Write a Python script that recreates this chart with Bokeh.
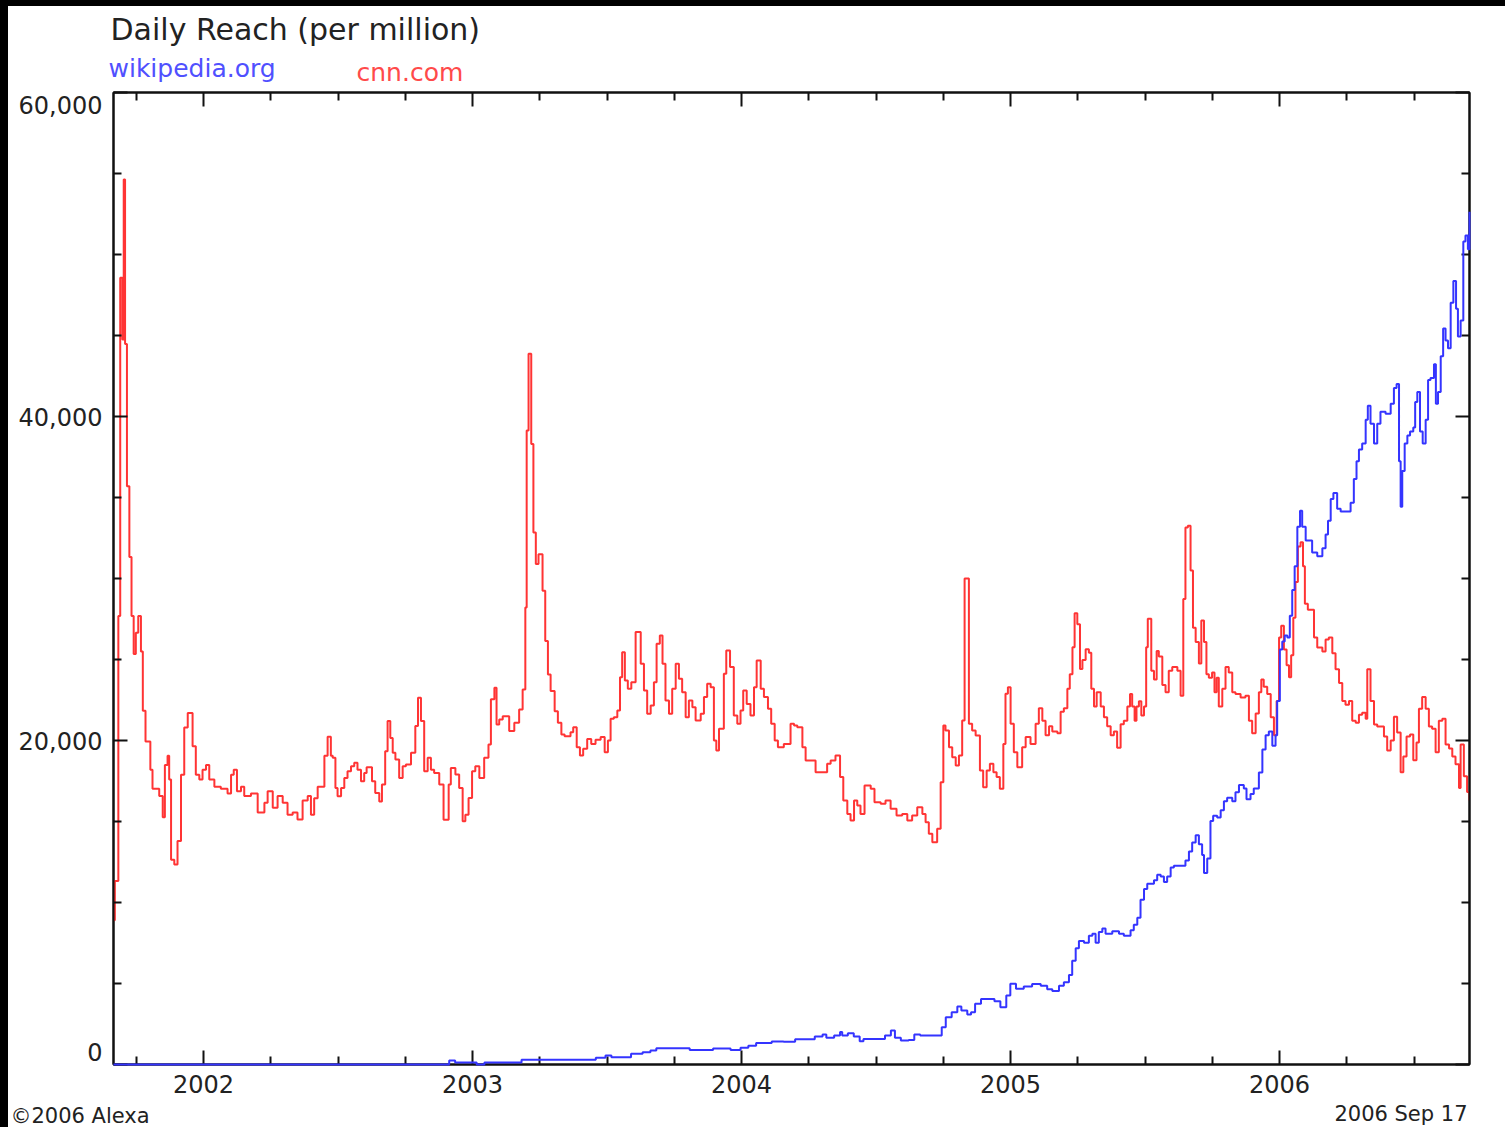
from bokeh.plotting import figure
from bokeh.models import FixedTicker, NumeralTickFormatter, LinearAxis, Range1d
from bokeh.core.properties import value
from bokeh.embed import file_html
from bokeh.resources import INLINE

# ---------------- data ----------------
title_text = "Daily Reach (per million)"
series_names = ["wikipedia.org", "cnn.com"]
footer_left = "\u00a92006 Alexa"
footer_right = "2006 Sep 17"

x_start, x_end = 2001.665, 2006.706
year_ticks = [2002, 2003, 2004, 2005, 2006]
quarter_ticks = [2001.75, 2002.25, 2002.5, 2002.75, 2003.25, 2003.5, 2003.75,
                 2004.25, 2004.5, 2004.75, 2005.25, 2005.5, 2005.75, 2006.25, 2006.5]
y_ticks = [0, 20000, 40000, 60000]
y_minor = [5000, 10000, 15000, 25000, 30000, 35000, 45000, 50000, 55000]
y_grid = [20000, 40000]

cnn_year = [
    2001.665, 2001.670, 2001.683, 2001.690, 2001.698, 2001.703, 2001.708, 2001.715, 2001.724, 2001.732,
    2001.740, 2001.748, 2001.757, 2001.767, 2001.774, 2001.784, 2001.802, 2001.810, 2001.835, 2001.848,
    2001.856, 2001.866, 2001.872, 2001.879, 2001.891, 2001.903, 2001.916, 2001.928, 2001.941, 2001.959,
    2001.971, 2001.984, 2001.996, 2002.009, 2002.021, 2002.040, 2002.064, 2002.089, 2002.102, 2002.112,
    2002.124, 2002.139, 2002.151, 2002.176, 2002.201, 2002.226, 2002.238, 2002.257, 2002.275, 2002.294,
    2002.312, 2002.331, 2002.349, 2002.368, 2002.387, 2002.399, 2002.411, 2002.424, 2002.449, 2002.461,
    2002.473,
    2002.480, 2002.490, 2002.498, 2002.511, 2002.523, 2002.535, 2002.548, 2002.560, 2002.572, 2002.585,
    2002.597, 2002.606, 2002.626, 2002.638, 2002.653, 2002.663, 2002.675, 2002.684, 2002.694, 2002.703,
    2002.713, 2002.727, 2002.740, 2002.752, 2002.771, 2002.787, 2002.797, 2002.808, 2002.820, 2002.833,
    2002.845, 2002.857, 2002.876, 2002.892, 2002.911, 2002.919, 2002.936, 2002.950, 2002.963, 2002.973,
    2002.985, 2002.998, 2003.010, 2003.025, 2003.043, 2003.059, 2003.068, 2003.081, 2003.089, 2003.099,
    2003.112, 2003.136, 2003.155, 2003.173, 2003.186, 2003.196, 2003.201, 2003.208, 2003.218, 2003.226,
    2003.235, 2003.245, 2003.260, 2003.270, 2003.280, 2003.290, 2003.305, 2003.317, 2003.330, 2003.342,
    2003.364, 2003.374, 2003.387, 2003.399, 2003.411, 2003.426, 2003.441, 2003.457, 2003.476, 2003.491,
    2003.503, 2003.513, 2003.525, 2003.538, 2003.548, 2003.556, 2003.566, 2003.577, 2003.590, 2003.606,
    2003.625, 2003.637, 2003.649, 2003.662, 2003.674, 2003.684, 2003.696, 2003.706, 2003.717, 2003.730,
    2003.742, 2003.755, 2003.767, 2003.779, 2003.792, 2003.804, 2003.817, 2003.829, 2003.848, 2003.860,
    2003.872, 2003.885, 2003.897, 2003.906, 2003.916, 2003.934, 2003.943, 2003.957, 2003.971, 2003.984,
    2003.996, 2004.006, 2004.019, 2004.033, 2004.046, 2004.056, 2004.071, 2004.083, 2004.098, 2004.110,
    2004.123, 2004.135, 2004.157, 2004.182, 2004.195, 2004.207, 2004.226, 2004.238, 2004.275, 2004.318,
    2004.331, 2004.349, 2004.366, 2004.378, 2004.393, 2004.405, 2004.418, 2004.430, 2004.442, 2004.457,
    2004.480, 2004.494, 2004.517, 2004.535, 2004.554, 2004.576, 2004.597, 2004.616, 2004.634, 2004.653,
    2004.672, 2004.684, 2004.696, 2004.709, 2004.727, 2004.740, 2004.750, 2004.758, 2004.771, 2004.783,
    2004.796, 2004.808, 2004.820, 2004.829, 2004.845, 2004.857, 2004.870, 2004.886, 2004.898, 2004.911,
    2004.923, 2004.936, 2004.948, 2004.960, 2004.973, 2004.981, 2004.990, 2005.000, 2005.012, 2005.025,
    2005.043, 2005.056, 2005.074, 2005.093,
    2005.105, 2005.118, 2005.130, 2005.143, 2005.155, 2005.174, 2005.186, 2005.198, 2005.211, 2005.220,
    2005.230, 2005.238, 2005.248, 2005.258, 2005.267, 2005.279, 2005.291, 2005.300, 2005.310, 2005.320,
    2005.335, 2005.347, 2005.359, 2005.372, 2005.384, 2005.396, 2005.409, 2005.421, 2005.434, 2005.444,
    2005.452, 2005.461, 2005.468, 2005.477, 2005.486, 2005.496, 2005.504, 2005.510, 2005.523, 2005.533,
    2005.543, 2005.551, 2005.564, 2005.576, 2005.588, 2005.601, 2005.620, 2005.632, 2005.642, 2005.650,
    2005.659, 2005.669, 2005.678, 2005.688, 2005.700, 2005.709, 2005.719, 2005.728, 2005.737, 2005.749,
    2005.758, 2005.766, 2005.774, 2005.787, 2005.799, 2005.811, 2005.824, 2005.836, 2005.855, 2005.873,
    2005.886, 2005.898, 2005.911, 2005.923, 2005.932, 2005.941, 2005.954, 2005.967, 2005.979,
    2005.989, 2005.998, 2006.006, 2006.016, 2006.026, 2006.035, 2006.043, 2006.051, 2006.059, 2006.068,
    2006.078, 2006.087, 2006.094, 2006.105, 2006.128, 2006.140, 2006.159, 2006.171, 2006.183, 2006.196,
    2006.208, 2006.221, 2006.233, 2006.245, 2006.258, 2006.270, 2006.283, 2006.295, 2006.307, 2006.320,
    2006.326, 2006.338, 2006.351, 2006.363, 2006.388, 2006.400, 2006.413, 2006.425, 2006.437, 2006.450,
    2006.460, 2006.472, 2006.485, 2006.497, 2006.509, 2006.518, 2006.530, 2006.543, 2006.555, 2006.567,
    2006.580, 2006.592, 2006.605, 2006.617, 2006.630, 2006.642, 2006.654, 2006.667, 2006.673, 2006.685,
    2006.697, 2006.706,
]
cnn_reach = [
    8900, 11330, 27680, 48560, 44760, 54630, 44470, 35700, 31330, 27680,
    25340, 26650, 27680, 25490, 21840, 19940, 18190, 17020, 16580, 15270,
    18480, 19060, 17600, 12640, 12350, 13800, 17890, 20800, 21690, 19650,
    17890, 17600, 18190, 18480, 17600, 17150, 17020, 16730, 17890, 18190,
    16870, 17150, 16580, 16730, 15560, 16150, 16870, 15850, 16580, 16150,
    15420, 15560, 15120, 16290, 16580, 15420, 16440, 17150, 19060, 20230,
    19060,
    18930, 17070, 16560, 17070, 17690, 18100, 18410, 18620, 18200, 17480,
    18000, 18350, 17480, 16760, 16240, 17280, 19340, 21200, 20160, 19240,
    18820, 17690, 18410, 18520, 19240, 20890, 22640, 21200, 18100, 18930,
    18200, 18000, 17280, 15110, 17280, 18310, 17900, 17070, 15010, 15420,
    16450, 18100, 18410, 17690, 18930, 19750, 22540, 23260, 20990, 21300,
    21500, 20580, 21090, 21920, 23150, 28210, 39130, 43880, 38310, 32840,
    30890, 31500, 29240, 26140, 24080, 23050, 21810, 21090, 20370, 20270,
    20510, 20820, 19590, 19070, 19490, 20100, 19790, 20040, 20210, 19280,
    20000, 21340, 21440, 21850, 23910, 25450, 23700, 23190, 23600, 26690,
    24730, 23090, 21650, 22160, 23600, 25970, 26480, 24730, 22470, 21650,
    23190, 24730, 23810, 22980, 21440, 22470, 22060, 21230, 21650, 22680,
    23500, 23290, 20000, 19380, 20720, 24120, 25560, 24530, 21540, 21030,
    21850, 23090, 22260, 21540, 23290, 24940, 23190, 22680, 21960, 21030,
    20000, 19590, 19790, 21030, 20930, 20820, 19590, 18770, 18040, 18560,
    18770, 19070, 17740, 16300, 15470, 15060, 16300, 15990, 15470, 17220,
    17020, 16190, 16090, 16300, 15780, 15370, 15470, 15060, 15370, 15880,
    15470, 14960, 14240, 13720, 14550, 17430, 20930, 20620, 19590, 18970,
    18460, 19070, 21230, 30000, 21030, 20620, 20310, 18150, 17120, 18150,
    18560, 18040, 17740, 17020, 19790, 22880, 23290, 21030, 19280, 18350,
    19590, 20210, 19790, 21030,
    21990, 21220, 20330, 20880, 20550, 20440, 21770, 21990, 23200, 24090,
    25750, 27850, 27180, 24420, 24970, 25640, 25410, 23200, 22100, 22980,
    22100, 21440, 20880, 20330, 20550, 19560, 21000, 21220, 22100, 22870,
    22100, 21220, 22100, 22430, 21550, 22100, 25750, 27510, 24310, 23760,
    25530, 25190, 23430, 22980, 24310, 24530, 24310, 22760, 28730, 33150,
    33260, 30500, 26960, 26080, 24750, 27400, 26080, 24090, 23870, 24200,
    22980, 23870, 22100, 23200, 24530, 24200, 22980, 22870, 22650, 22760,
    21220, 20440, 21660, 22980, 23760, 23320, 22870, 21440, 20330,
    22440, 26360, 27090, 25620, 24640, 23910, 25260, 27580, 29780, 31980,
    32230, 30760, 28440, 28070, 26360, 25740, 25500, 26240, 26360, 25380,
    24400, 23550, 22440, 22200, 22440, 21220, 21100, 21590, 21710, 21340,
    24400, 22440, 20980, 20860, 20240, 19390, 20000, 21470, 20490, 18040,
    19020, 20240, 20370, 18780, 19880, 21960, 22690, 21960, 20860, 20730,
    19270, 21220, 21340, 19750, 19510, 19020, 18530, 17070, 19750, 17800,
    16820, 16300,
]

wiki_year = [
    2001.665, 2002.913, 2002.935, 2003.015, 2003.044, 2003.182, 2003.458, 2003.494, 2003.516, 2003.589,
    2003.632, 2003.661, 2003.683, 2003.807, 2003.894, 2003.959, 2003.996, 2004.025, 2004.054, 2004.112,
    2004.156, 2004.199, 2004.272, 2004.301, 2004.315, 2004.344, 2004.366, 2004.374, 2004.395, 2004.417,
    2004.439, 2004.453, 2004.533, 2004.555, 2004.570, 2004.592, 2004.621, 2004.642, 2004.664, 2004.744,
    2004.759, 2004.781, 2004.802, 2004.817, 2004.839, 2004.853, 2004.868, 2004.890, 2004.940, 2004.962,
    2004.984, 2004.999, 2005.020, 2005.049, 2005.080,
    2005.112, 2005.136, 2005.155, 2005.180, 2005.198, 2005.217, 2005.229, 2005.242, 2005.254, 2005.273,
    2005.291, 2005.304, 2005.316, 2005.328, 2005.341, 2005.353, 2005.378, 2005.403, 2005.421, 2005.446,
    2005.458, 2005.471, 2005.483, 2005.496, 2005.508, 2005.533, 2005.545, 2005.558, 2005.570, 2005.582,
    2005.595, 2005.607, 2005.650, 2005.663, 2005.675, 2005.688, 2005.700, 2005.712, 2005.719, 2005.731,
    2005.743, 2005.753, 2005.768, 2005.781, 2005.793, 2005.805, 2005.824, 2005.836, 2005.849, 2005.867,
    2005.877, 2005.892, 2005.904, 2005.923, 2005.936, 2005.948, 2005.960, 2005.973, 2005.985,
    2005.991, 2006.001, 2006.010, 2006.019, 2006.029, 2006.038, 2006.047, 2006.056, 2006.066, 2006.076,
    2006.084, 2006.097, 2006.121, 2006.140, 2006.159, 2006.171, 2006.180, 2006.190, 2006.200, 2006.214,
    2006.227, 2006.264, 2006.276, 2006.286, 2006.295, 2006.307, 2006.320, 2006.328, 2006.338, 2006.351,
    2006.363, 2006.375, 2006.394, 2006.413, 2006.425, 2006.435, 2006.444, 2006.450, 2006.456, 2006.465,
    2006.475, 2006.485, 2006.497, 2006.504, 2006.512, 2006.522, 2006.532, 2006.543, 2006.552, 2006.561,
    2006.574, 2006.581, 2006.589, 2006.599, 2006.608, 2006.617, 2006.626, 2006.636, 2006.646, 2006.656,
    2006.663, 2006.673, 2006.683, 2006.691, 2006.700, 2006.706,
]
wiki_reach = [
    0, 250, 120, 0, 120, 290, 410, 560, 450, 660,
    760, 860, 1010, 900, 990, 900, 1030, 1150, 1320, 1420,
    1400, 1560, 1730, 1850, 1650, 1790, 2000, 1790, 1930, 1730,
    1440, 1580, 1790, 2100, 1650, 1480, 1520, 1850, 1790, 2300,
    2920, 3230, 3580, 3330, 3090, 3230, 3750, 4050, 3910, 3540,
    4260, 4980, 4670, 4820, 4970,
    4860, 4640, 4530, 4860, 5080, 5530, 6410, 7180, 7620, 7510,
    7950, 8070, 7510, 8180, 8400, 8070, 8220, 8070, 7950, 8290,
    8620, 9060, 10170, 10830, 11160, 11380, 11710, 11600, 11270, 11600,
    12160, 12270, 12600, 13150, 13700, 14150, 13590, 12930, 11820, 12710,
    15030, 15360, 15250, 15690, 16250, 16470, 16250, 16800, 17250, 17030,
    16370, 16700, 17030, 18020, 19450, 20330, 20550, 19670, 20330,
    22440, 25620, 26110, 26480, 26360, 27700, 29290, 30760, 33200, 34180,
    33200, 32350, 31610, 31370, 31860, 32710, 33570, 34910, 35280, 34300,
    34130, 34670, 36140, 37240, 37970, 38340, 39800, 40660, 39560, 38340,
    39560, 40290, 40170, 40780, 41760, 42000, 37240, 34430, 36630, 38340,
    38830, 39070, 39320, 40900, 41520, 39070, 38340, 39800, 42250, 42370,
    43230, 40780, 41520, 43720, 45430, 44690, 44210, 47020, 48360, 46650,
    44940, 45920, 50810, 51170, 50320, 52640,
]

# ---------------- styling ----------------
FONT = "DejaVu Sans"
TXT = "#222222"
RED = "#ff3434"
BLUE = "#3434ff"
W = 1497
END_LABEL_NUDGE = 800  # the end labels of the y axis sit slightly inside the frame


def blank_fig(h):
    f = figure(width=W, height=h, output_backend="svg", toolbar_location=None,
               x_range=Range1d(0, W), y_range=Range1d(0, h),
               x_axis_type=None, y_axis_type=None,
               min_border_left=0, min_border_right=0, min_border_top=0, min_border_bottom=0,
               background_fill_color="white", border_fill_color="white")
    f.outline_line_color = None
    f.grid.visible = False
    return f


def put_text(f, x, y, txt, size, color, align="left"):
    f.text(x=[x], y=[y], text=[txt], text_font=value(FONT), text_font_size=size,
           text_color=color, text_align=align, text_baseline="middle", text_line_height=1.0)


# header: title + series names (separate root, no frame alignment)
head = blank_fig(80)
put_text(head, 102, 57, title_text, "30px", TXT)
put_text(head, 100, 18, series_names[0], "25px", "#5050ff")
put_text(head, 348, 14, series_names[1], "25px", "#ff4a4a")

# main chart
p = figure(width=W, height=1017, output_backend="svg", toolbar_location=None,
           x_range=Range1d(x_start, x_end), y_range=Range1d(0, 60000),
           x_axis_type=None, y_axis_type=None,
           min_border_left=105, min_border_right=36, min_border_top=6, min_border_bottom=39,
           background_fill_color="white", border_fill_color="white")
p.outline_line_color = "#111111"
p.outline_line_width = 2

xt = FixedTicker(ticks=year_ticks, minor_ticks=quarter_ticks)
yt = FixedTicker(ticks=y_ticks, minor_ticks=y_minor)


def style_axis(ax, show_labels, show_ticks=True):
    ax.axis_line_color = "#111111"
    ax.axis_line_width = 2
    ax.major_tick_line_color = "#111111"
    ax.major_tick_line_width = 2
    ax.minor_tick_line_color = "#111111"
    ax.minor_tick_line_width = 2
    ax.major_tick_in = 14 if show_ticks else 0
    ax.major_tick_out = 0
    ax.minor_tick_in = 8 if show_ticks else 0
    ax.minor_tick_out = 0
    if show_labels:
        ax.major_label_text_font = FONT
        ax.major_label_text_color = TXT
    else:
        ax.major_label_text_font_size = "0px"
        ax.major_label_text_color = None
        ax.major_label_standoff = 0


bottom = LinearAxis(ticker=xt, formatter=NumeralTickFormatter(format="0"))
style_axis(bottom, True)
bottom.major_label_text_font_size = "24px"
bottom.major_label_standoff = 10
p.add_layout(bottom, "below")

top = LinearAxis(ticker=xt)
style_axis(top, False)
p.add_layout(top, "above")

# left side: ticks on the frame edge, then the value labels
left_ticks = LinearAxis(ticker=yt)
style_axis(left_ticks, False)
p.add_layout(left_ticks, "left")

label_pos = [y_ticks[0] + END_LABEL_NUDGE] + y_ticks[1:-1] + [y_ticks[-1] - END_LABEL_NUDGE]
left_labels = LinearAxis(ticker=FixedTicker(ticks=label_pos, minor_ticks=[]),
                         formatter=NumeralTickFormatter(format="0,0"),
                         major_label_overrides={label_pos[0]: "{:,}".format(y_ticks[0]),
                                                label_pos[-1]: "{:,}".format(y_ticks[-1])})
style_axis(left_labels, True, show_ticks=False)
left_labels.axis_line_color = None
left_labels.major_tick_line_color = None
left_labels.minor_tick_line_color = None
left_labels.major_label_text_font_size = "24px"
left_labels.major_label_standoff = 11
p.add_layout(left_labels, "left")

right = LinearAxis(ticker=yt)
style_axis(right, False)
p.add_layout(right, "right")

p.xgrid.ticker = FixedTicker(ticks=year_ticks)
p.ygrid.ticker = FixedTicker(ticks=y_grid)
for g in (p.xgrid, p.ygrid):
    g.grid_line_color = "#d2d2d2"
    g.grid_line_width = 2

p.step(cnn_year, cnn_reach, mode="after", line_color=RED, line_width=2)
wr = p.step(wiki_year, wiki_reach, mode="after", line_color=BLUE, line_width=2)
wr.level = "overlay"

# footer
foot = blank_fig(24)
put_text(foot, 2, 12, footer_left, "21px", TXT)
put_text(foot, 1459, 13.5, footer_right, "21px", TXT, align="right")

html = file_html([head, p, foot], INLINE, title="Daily Reach")
css = ("<style>html,body{overflow:hidden;}"
       "body{margin:0;padding:6px 0 0 8px;box-sizing:border-box;"
       "background:linear-gradient(#000,#000) left top/8px 100% no-repeat,"
       "linear-gradient(#000,#000) left top/100% 6px no-repeat,#fff;"
       "display:flex;flex-direction:column;align-items:flex-start;}"
       "body > div{display:flex;}</style>")
html = html.replace("</head>", css + "</head>", 1)
open("out.html", "w").write(html)
